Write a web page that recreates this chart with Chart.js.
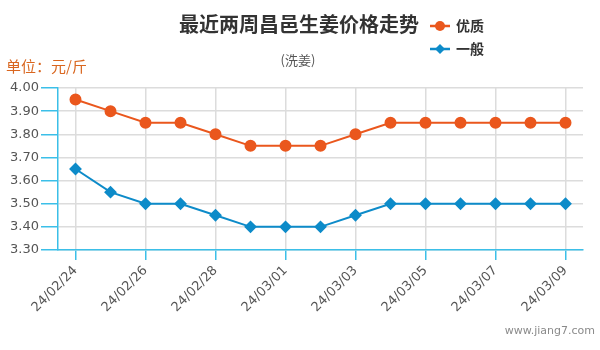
<!DOCTYPE html>
<html><head><meta charset="utf-8">
<script src="https://cdn.jsdelivr.net/npm/chart.js@4"></script>
<style>html,body{margin:0;padding:0;background:#fff}#wrap{width:600px;height:350px;position:relative}</style>
</head><body><div id="wrap"><canvas id="c" width="600" height="350"></canvas></div>
<script>
const categories = ['24/02/24','24/02/25','24/02/26','24/02/27','24/02/28','24/02/29','24/03/01','24/03/02','24/03/03','24/03/04','24/03/05','24/03/06','24/03/07','24/03/08','24/03/09'];
const premium = [3.95,3.90,3.85,3.85,3.80,3.75,3.75,3.75,3.80,3.85,3.85,3.85,3.85,3.85,3.85];
const ordinary = [3.65,3.55,3.50,3.50,3.45,3.40,3.40,3.40,3.45,3.50,3.50,3.50,3.50,3.50,3.50];
const seriesNames = ['优质','一般'];
const titleText = '最近两周昌邑生姜价格走势';
const subtitleText = '(洗姜)';
const unitText = '单位：元/斤';
const watermark = 'www.jiang7.com';

const ORANGE = '#ea571d', BLUE = '#0d8bc9', AXIS = '#3bbfe8';
const CJK = '"Noto Sans CJK SC", sans-serif';

const decor = {
  id: 'decor',
  afterDraw(chart) {
    const ctx = chart.ctx;
    ctx.save();
    ctx.textBaseline = 'middle';
    ctx.fillStyle = '#333';
    ctx.font = 'bold 20px ' + CJK;
    ctx.textAlign = 'center';
    ctx.fillText(titleText, 299, 24);
    ctx.fillStyle = '#555';
    ctx.font = '13px ' + CJK;
    ctx.fillText(subtitleText, 298, 60);
    ctx.textAlign = 'left';
    ctx.fillStyle = '#d9661f';
    ctx.font = '15px ' + CJK;
    ctx.fillText(unitText, 6, 66);
    // legend
    chart.data.datasets.forEach((ds, i) => {
      const y = 26 + i * 23, x0 = 430;
      ctx.strokeStyle = ds.borderColor; ctx.lineWidth = 2.5;
      ctx.beginPath(); ctx.moveTo(x0, y); ctx.lineTo(x0 + 20, y); ctx.stroke();
      ctx.fillStyle = ds.backgroundColor;
      ctx.beginPath();
      if (ds.pointStyle === 'circle') { ctx.arc(x0 + 10, y, 5, 0, Math.PI * 2); }
      else { ctx.moveTo(x0 + 10, y - 5); ctx.lineTo(x0 + 15, y); ctx.lineTo(x0 + 10, y + 5); ctx.lineTo(x0 + 5, y); ctx.closePath(); }
      ctx.fill();
      ctx.fillStyle = '#333';
      ctx.font = 'bold 14px ' + CJK;
      ctx.fillText(ds.label, x0 + 26, y);
    });
    ctx.fillStyle = '#8a8a8a';
    ctx.font = '11px "DejaVu Sans", sans-serif';
    ctx.textAlign = 'right';
    ctx.fillText(watermark, 595, 331);
    ctx.restore();
  }
};

new Chart(document.getElementById('c'), {
  type: 'line',
  data: {
    labels: categories,
    datasets: [
      { label: seriesNames[0], data: premium, borderColor: ORANGE, backgroundColor: ORANGE, pointStyle: 'circle', pointRadius: 5, pointHoverRadius: 5, borderWidth: 2, tension: 0 },
      { label: seriesNames[1], data: ordinary, borderColor: BLUE, backgroundColor: BLUE, pointStyle: 'rectRot', pointRadius: 5, pointHoverRadius: 5, borderWidth: 2, tension: 0 }
    ]
  },
  options: {
    responsive: false,
    animation: false,
    events: [],
    layout: { padding: { top: 88, right: 17, left: 0, bottom: 0 } },
    plugins: { legend: { display: false }, title: { display: false }, tooltip: { enabled: false } },
    scales: {
      x: {
        offset: true,
        grid: { offset: false, color: c => c.index % 2 === 0 ? '#dcdcdc' : 'rgba(0,0,0,0)', tickColor: c => c.index % 2 === 0 ? AXIS : 'rgba(0,0,0,0)', tickLength: 10, lineWidth: 1.5 },
        border: { color: AXIS, width: 1.5 },
        ticks: { autoSkip: false, maxRotation: 45, minRotation: 45, color: '#555', font: { family: '"DejaVu Sans", sans-serif', size: 13 },
          callback: (v, i) => i % 2 === 0 ? categories[i] : '' },
        afterFit: s => { s.height = 100; }
      },
      y: {
        min: 3.3, max: 4.0,
        grid: { color: '#dcdcdc', tickColor: AXIS, tickLength: 17, lineWidth: 1.5 },
        border: { color: AXIS, width: 1.5 },
        ticks: { stepSize: 0.1, color: '#555', padding: 2, font: { family: '"DejaVu Sans", sans-serif', size: 13 }, callback: v => Number(v).toFixed(2) },
        afterFit: s => { s.width = 58; }
      }
    }
  },
  plugins: [decor]
});
</script></body></html>
